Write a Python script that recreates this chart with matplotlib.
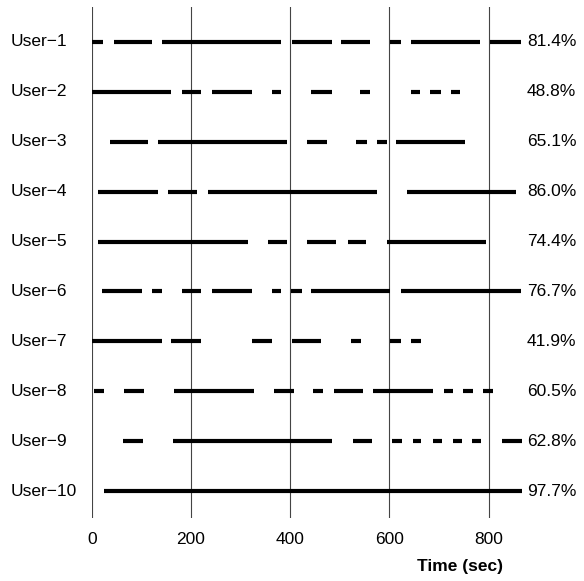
import matplotlib.pyplot as plt

plt.rcParams['font.family'] = ['Liberation Sans', 'DejaVu Sans']

users = ['User\u22121', 'User\u22122', 'User\u22123', 'User\u22124', 'User\u22125',
         'User\u22126', 'User\u22127', 'User\u22128', 'User\u22129', 'User\u221210']
percent = [81.4, 48.8, 65.1, 86.0, 74.4, 76.7, 41.9, 60.5, 62.8, 97.7]

# active intervals (start, end) in seconds, one list per user
sessions = [
    [(1, 22), (44, 121), (142, 381), (403, 484), (502, 561), (602, 623), (644, 782), (803, 864)],
    [(1, 159), (181, 220), (243, 323), (363, 381), (442, 484), (541, 561), (644, 661), (682, 703), (723, 743)],
    [(36, 113), (134, 393), (434, 475), (533, 555), (575, 594), (614, 753)],
    [(13, 134), (153, 212), (234, 575), (635, 855)],
    [(13, 315), (355, 393), (434, 493), (516, 553), (594, 795)],
    [(21, 102), (121, 141), (181, 220), (242, 323), (363, 381), (402, 423), (442, 602), (623, 864)],
    [(0, 141), (160, 220), (323, 363), (403, 462), (523, 542), (602, 623), (644, 663)],
    [(5, 25), (65, 106), (166, 327), (368, 407), (446, 466), (489, 546), (567, 687),
     (709, 727), (748, 768), (789, 809)],
    [(64, 104), (163, 485), (526, 565), (605, 625), (647, 664), (687, 706), (727, 746),
     (766, 785), (826, 867)],
    [(25, 867)],
]
xticks = [0, 200, 400, 600, 800]

fig = plt.figure(figsize=(5.84, 5.81), dpi=100)
ax = fig.add_axes([0.157, 0.1084, 0.7394, 0.8796])

for x in xticks:
    ax.axvline(x, color='#444444', lw=0.8, zorder=1)

for i, segs in enumerate(sessions):
    y = i + 1
    for s, e in segs:
        ax.plot([s, e], [y, y], color='black', lw=3, solid_capstyle='butt', zorder=2)
    ax.text(-0.187, y, users[i], transform=ax.get_yaxis_transform(),
            ha='left', va='center', fontsize=12.5)
    ax.text(1.008, y, '%.1f%%' % percent[i], transform=ax.get_yaxis_transform(),
            ha='left', va='center', fontsize=12.5)

ax.set_xlim(0, 870)
ax.set_ylim(10.54, 0.30)
ax.set_xticks(xticks)
ax.set_yticks([])
ax.tick_params(axis='x', length=0, pad=10, labelsize=12.5)
for sp in ax.spines.values():
    sp.set_visible(False)

fig.text(460 / 584, 1 - 566 / 581, 'Time (sec)', ha='center', va='center',
         fontsize=12.5, fontweight='bold')

fig.savefig('out.png', dpi=100)
